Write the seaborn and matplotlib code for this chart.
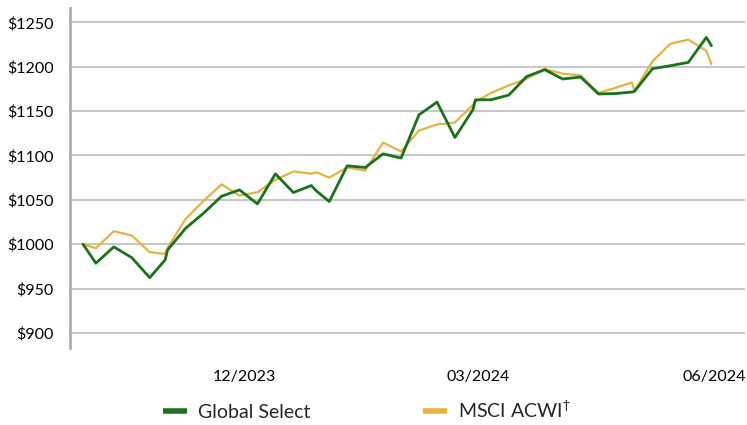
import matplotlib
matplotlib.use("Agg")
import matplotlib.pyplot as plt
import matplotlib.dates as mdates
import seaborn as sns
import pandas as pd
import numpy as np

dates = ["2023-09-29", "2023-10-04", "2023-10-11", "2023-10-18", "2023-10-25",
         "2023-10-31", "2023-11-01", "2023-11-08", "2023-11-15", "2023-11-22",
         "2023-11-29", "2023-12-06", "2023-12-13", "2023-12-20", "2023-12-27",
         "2023-12-29", "2024-01-03", "2024-01-10", "2024-01-17", "2024-01-24",
         "2024-01-31", "2024-02-07", "2024-02-14", "2024-02-21", "2024-02-28",
         "2024-02-29", "2024-03-06", "2024-03-13", "2024-03-20", "2024-03-27",
         "2024-04-03", "2024-04-10", "2024-04-17", "2024-04-24", "2024-04-30",
         "2024-05-01", "2024-05-08", "2024-05-15", "2024-05-22", "2024-05-29",
         "2024-05-31"]

global_select = [1000, 978.6, 997, 984.9, 962.3,
                 982.3, 993.6, 1018, 1035, 1054,
                 1061.2, 1045.4, 1079.3, 1058.2, 1066.1,
                 1060, 1048, 1088.3, 1086.4, 1101.8,
                 1097, 1145.8, 1160.1, 1120.2, 1151.5,
                 1162.7, 1162.7, 1168, 1189, 1196.6,
                 1186.1, 1188.3, 1169.2, 1169.8, 1171.4,
                 1172.1, 1197.7, 1201.1, 1204.8, 1233,
                 1223.6]

msci_acwi = [1000, 995.5, 1014.7, 1009.7, 991,
             989.1, 996.2, 1028.5, 1048.8, 1067.4,
             1054.8, 1058.6, 1072.5, 1081.9, 1079.5,
             1081, 1075, 1086.4, 1083, 1114.6,
             1104.4, 1128.1, 1134.9, 1137.1, 1157,
             1160.5, 1170.3, 1178.9, 1186.4, 1197.4,
             1192.1, 1190.1, 1170.3, 1176.6, 1182.2,
             1172.8, 1205.9, 1225.9, 1230.4, 1218,
             1203]

series_names = ["Global Select", "MSCI ACWI$^{\\dagger}$"]
y_ticks = [900, 950, 1000, 1050, 1100, 1150, 1200, 1250]
x_ticks = ["2023-12-01", "2024-03-01", "2024-06-01"]

df = pd.DataFrame({
    "date": pd.to_datetime(dates * 2),
    "value": global_select + msci_acwi,
    "series": [series_names[0]] * len(dates) + [series_names[1]] * len(dates),
})

sns.set_style("white")
plt.rcParams['font.family'] = ['Lato', 'DejaVu Sans']

fig = plt.figure(figsize=(7.47, 4.25), dpi=100)
ax = fig.add_axes([0.094, 0.181, 0.903, 0.8])

palette = {series_names[0]: "#17741a", series_names[1]: "#E8B23F"}
sns.lineplot(data=df, x="date", y="value", hue="series", palette=palette,
             ax=ax, legend=False, hue_order=[series_names[1], series_names[0]])
for line in ax.get_lines():
    if line.get_color().lower() == "#17741a":
        line.set_linewidth(2.0)
        line.set_zorder(3)
    else:
        line.set_linewidth(1.6)
        line.set_zorder(2)

ax.set_ylim(883, 1266)
ax.set_xlim(pd.Timestamp("2023-09-24"), pd.Timestamp("2024-06-13"))
ax.set_yticks(y_ticks)
ax.set_yticklabels([f"${v}" for v in y_ticks])
ax.set_xticks(pd.to_datetime(x_ticks))
ax.xaxis.set_major_formatter(mdates.DateFormatter("%m/%Y"))
ax.grid(axis="y", color="#c8c8c8", linewidth=1.5)
ax.set_axisbelow(True)
for s in ["top", "right", "bottom"]:
    ax.spines[s].set_visible(False)
ax.spines["left"].set_color("#b0b0b0")
ax.spines["left"].set_linewidth(2)
ax.tick_params(axis="both", length=0, labelsize=11.5, colors="#000000")
ax.tick_params(axis="y", pad=12)
ax.tick_params(axis="x", pad=16)
ax.set_xlabel("")
ax.set_ylabel("")

from matplotlib.lines import Line2D
handles = [Line2D([], [], color="#17741a", linewidth=4, solid_capstyle="butt"),
           Line2D([], [], color="#E8B23F", linewidth=4, solid_capstyle="butt")]
fig.legend(handles, series_names, loc="center", bbox_to_anchor=(0.491, 0.035),
           ncol=2, frameon=False, fontsize=14, handlelength=1.25,
           columnspacing=5.8, handletextpad=0.55)

fig.savefig("out.png", dpi=100)
